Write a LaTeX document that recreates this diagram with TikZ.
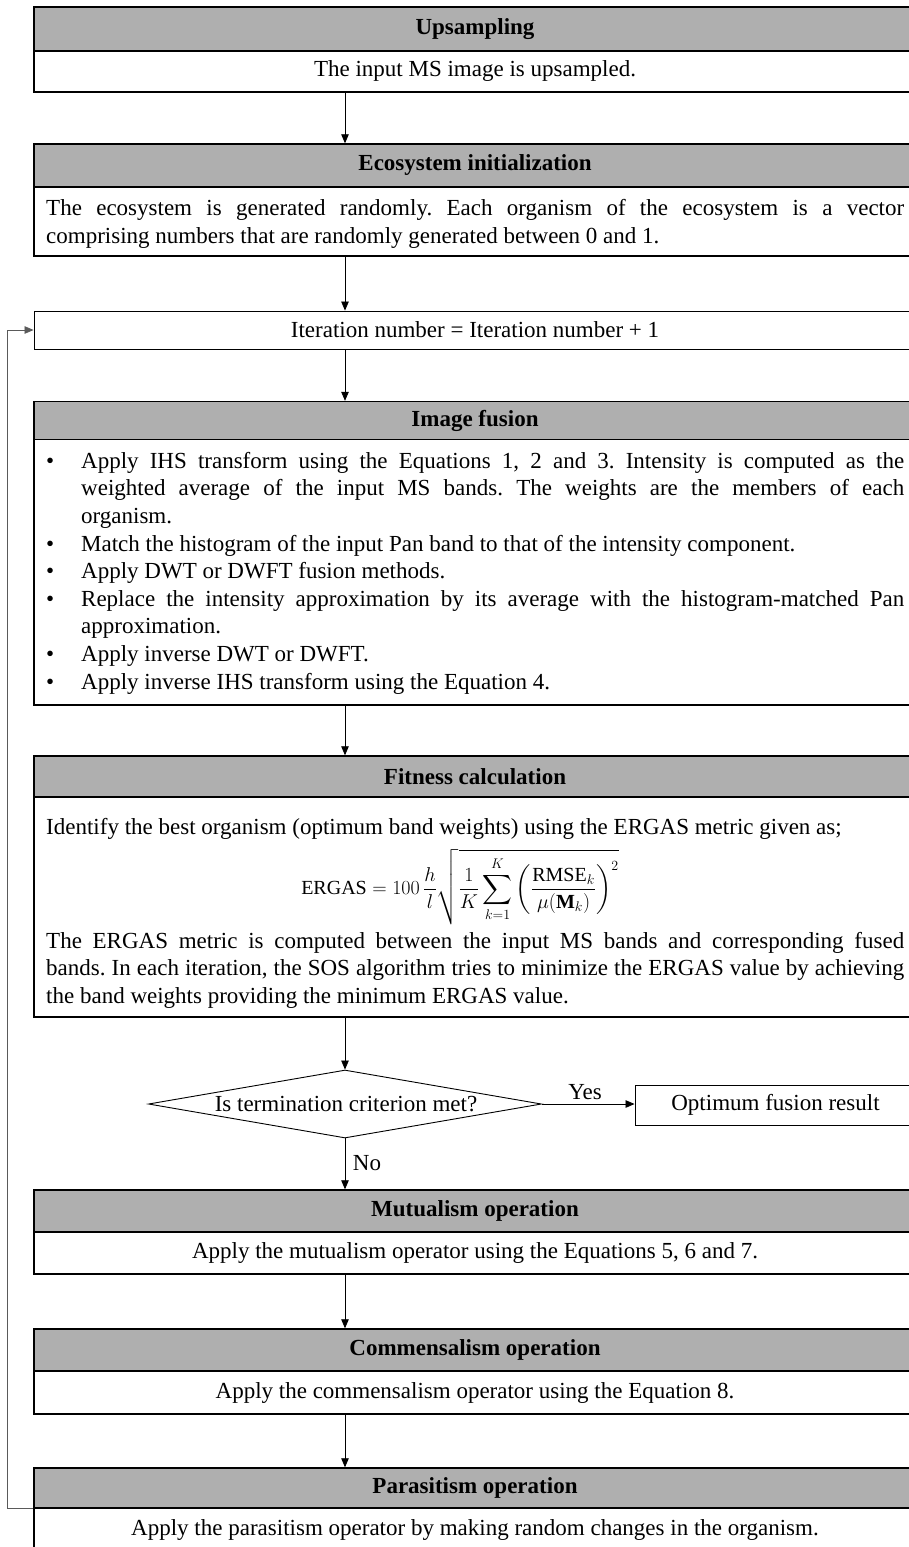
\RequirePackage{fix-cm}
\documentclass[tikz,border=0pt]{standalone}
\usepackage{amsmath}
\usepackage{fontspec}
\setmainfont{Liberation Serif}
\usetikzlibrary{shapes.geometric,arrows.meta}
\definecolor{hdrgray}{RGB}{175,175,175}
\definecolor{loopgray}{RGB}{90,90,90}
\newcommand{\fsz}{\fontsize{23}{27.6}\selectfont}
\newcommand{\normsp}{\spaceskip=5.75pt\relax}
\newcommand{\jline}[2]{{\spaceskip=5.75pt plus 60pt minus 2pt\relax\makebox[#1][s]{#2}}}
\newcommand{\bul}{\makebox[35pt][l]{\textbullet}}
\setlength{\parindent}{0pt}
\begin{document}
\frenchspacing
\begin{tikzpicture}[x=1pt,y=-1pt,
  boxline/.style={draw=black,line width=1.4pt},
  hdr/.style={boxline,fill=hdrgray,font=\fsz\bfseries,minimum width=882pt,inner sep=0pt},
  bodybox/.style={boxline,fill=white,font=\fsz,minimum width=882pt,inner sep=0pt},
  thinbox/.style={draw=black,line width=0.9pt,font=\fsz,inner sep=0pt},
  txt/.style={font=\fsz,inner sep=0pt},
  eqstyle/.style={font=\fontsize{20}{24}\selectfont,inner sep=0pt},
  para/.style={font=\fsz,inner sep=0pt,text width=858pt,align=left,anchor=west},
  arr/.style={draw=black,line width=0.8pt,-{Triangle[length=9pt,width=7.5pt]}},
  loopline/.style={draw=loopgray,line width=0.8pt,-{Triangle[length=9pt,width=7.5pt]}},
]
\useasboundingbox (0,0) rectangle (908,1547);
\fill[white] (0,0) rectangle (908,1547);
\coordinate (ax) at (345,0);
\coordinate (lx) at (7,0);

% Upsampling
\node[hdr,minimum height=44pt] (h1) at (475,29) {Upsampling};
\node[bodybox,minimum height=41pt] (b1) at (475,71.5) {The input MS image is upsampled.};

% Ecosystem initialization
\node[hdr,minimum height=43pt] (h2) at (475,165.5) {Ecosystem initialization};
\node[bodybox,minimum height=69pt] (b2) at (475,221.5) {};
\node[para] (t2) at (46,224) {\normsp\jline{858pt}{The ecosystem is generated randomly. Each organism of the ecosystem is a vector}\\
comprising numbers that are randomly generated between 0 and 1.};

% Iteration
\node[thinbox,minimum width=882pt,minimum height=38pt] (it) at (475,330) {Iteration number = Iteration number + 1};

% Image fusion
\node[hdr,minimum height=38pt] (h4) at (475,420.5) {Image fusion};
\node[bodybox,minimum height=265.5pt] (b4) at (475,572.25) {};
\node[para] (t4) at (46,573) {\normsp
\bul\jline{823pt}{Apply IHS transform using the Equations 1, 2 and 3. Intensity is computed as the}\\
\hspace*{35pt}\jline{823pt}{weighted average of the input MS bands. The weights are the members of each}\\
\hspace*{35pt}organism.\\
\bul Match the histogram of the input Pan band to that of the intensity component.\\
\bul Apply DWT or DWFT fusion methods.\\
\bul\jline{823pt}{Replace the intensity approximation by its average with the histogram-matched Pan}\\
\hspace*{35pt}approximation.\\
\bul Apply inverse DWT or DWFT.\\
\bul Apply inverse IHS transform using the Equation 4.};

% Fitness calculation
\node[hdr,minimum height=41pt] (h5) at (475,776.5) {Fitness calculation};
\node[bodybox,minimum height=220pt] (b5) at (475,907) {};
\node[txt,anchor=west] (t5a) at (46,829) {Identify the best organism (optimum band weights) using the ERGAS metric given as;};
\node[eqstyle] (eq) at (460,887) {$\displaystyle \mathrm{ERGAS} = 100\,\frac{h}{l}\sqrt{\frac{1}{K}\sum_{k=1}^{K}\left(\frac{\mathrm{RMSE}_k}{\mu(\mathbf{M}_k)}\right)^{2}}$};
\node[para] (t5b) at (46,970) {\normsp\jline{858pt}{The ERGAS metric is computed between the input MS bands and corresponding fused}\\
\jline{858pt}{bands. In each iteration, the SOS algorithm tries to minimize the ERGAS value by achieving}\\
the band weights providing the minimum ERGAS value.};

% Decision
\node[draw=black,line width=0.9pt,diamond,minimum width=393pt,minimum height=68pt,inner sep=0pt] (dia) at (345,1104) {};
\node[txt] (diat) at (346,1104) {Is termination criterion met?};
\node[thinbox,minimum width=281pt,minimum height=40pt] (opt) at (775.5,1105) {Optimum fusion result};
\node[txt] (yes) at (585,1092) {Yes};
\node[txt] (no) at (367,1163) {No};

% Mutualism
\node[hdr,minimum height=42pt] (h8) at (475,1211) {Mutualism operation};
\node[bodybox,minimum height=42pt] (b8) at (475,1253) {Apply the mutualism operator using the Equations 5, 6 and 7.};

% Commensalism
\node[hdr,minimum height=42pt] (h9) at (475,1350) {Commensalism operation};
\node[bodybox,minimum height=43pt] (b9) at (475,1392.5) {Apply the commensalism operator using the Equation 8.};

% Parasitism
\node[hdr,minimum height=40pt] (h10) at (475,1488) {Parasitism operation};
\node[bodybox,minimum height=44pt] (b10) at (475,1530) {Apply the parasitism operator by making random changes in the organism.};

% Connectors
\draw[arr] (ax |- b1.south) -- (ax |- h2.north);
\draw[arr] (ax |- b2.south) -- (ax |- it.north);
\draw[arr] (ax |- it.south) -- (ax |- h4.north);
\draw[arr] (ax |- b4.south) -- (ax |- h5.north);
\draw[arr] (ax |- b5.south) -- (dia.north);
\draw[arr] (dia.east) -- (dia.east -| opt.west);
\draw[arr] (dia.south) -- (ax |- h8.north);
\draw[arr] (ax |- b8.south) -- (ax |- h9.north);
\draw[arr] (ax |- b9.south) -- (ax |- h10.north);
\draw[loopline] (h10.south west) -- (lx |- h10.south west) -- (lx |- it.west) -- (it.west);
\end{tikzpicture}
\end{document}
